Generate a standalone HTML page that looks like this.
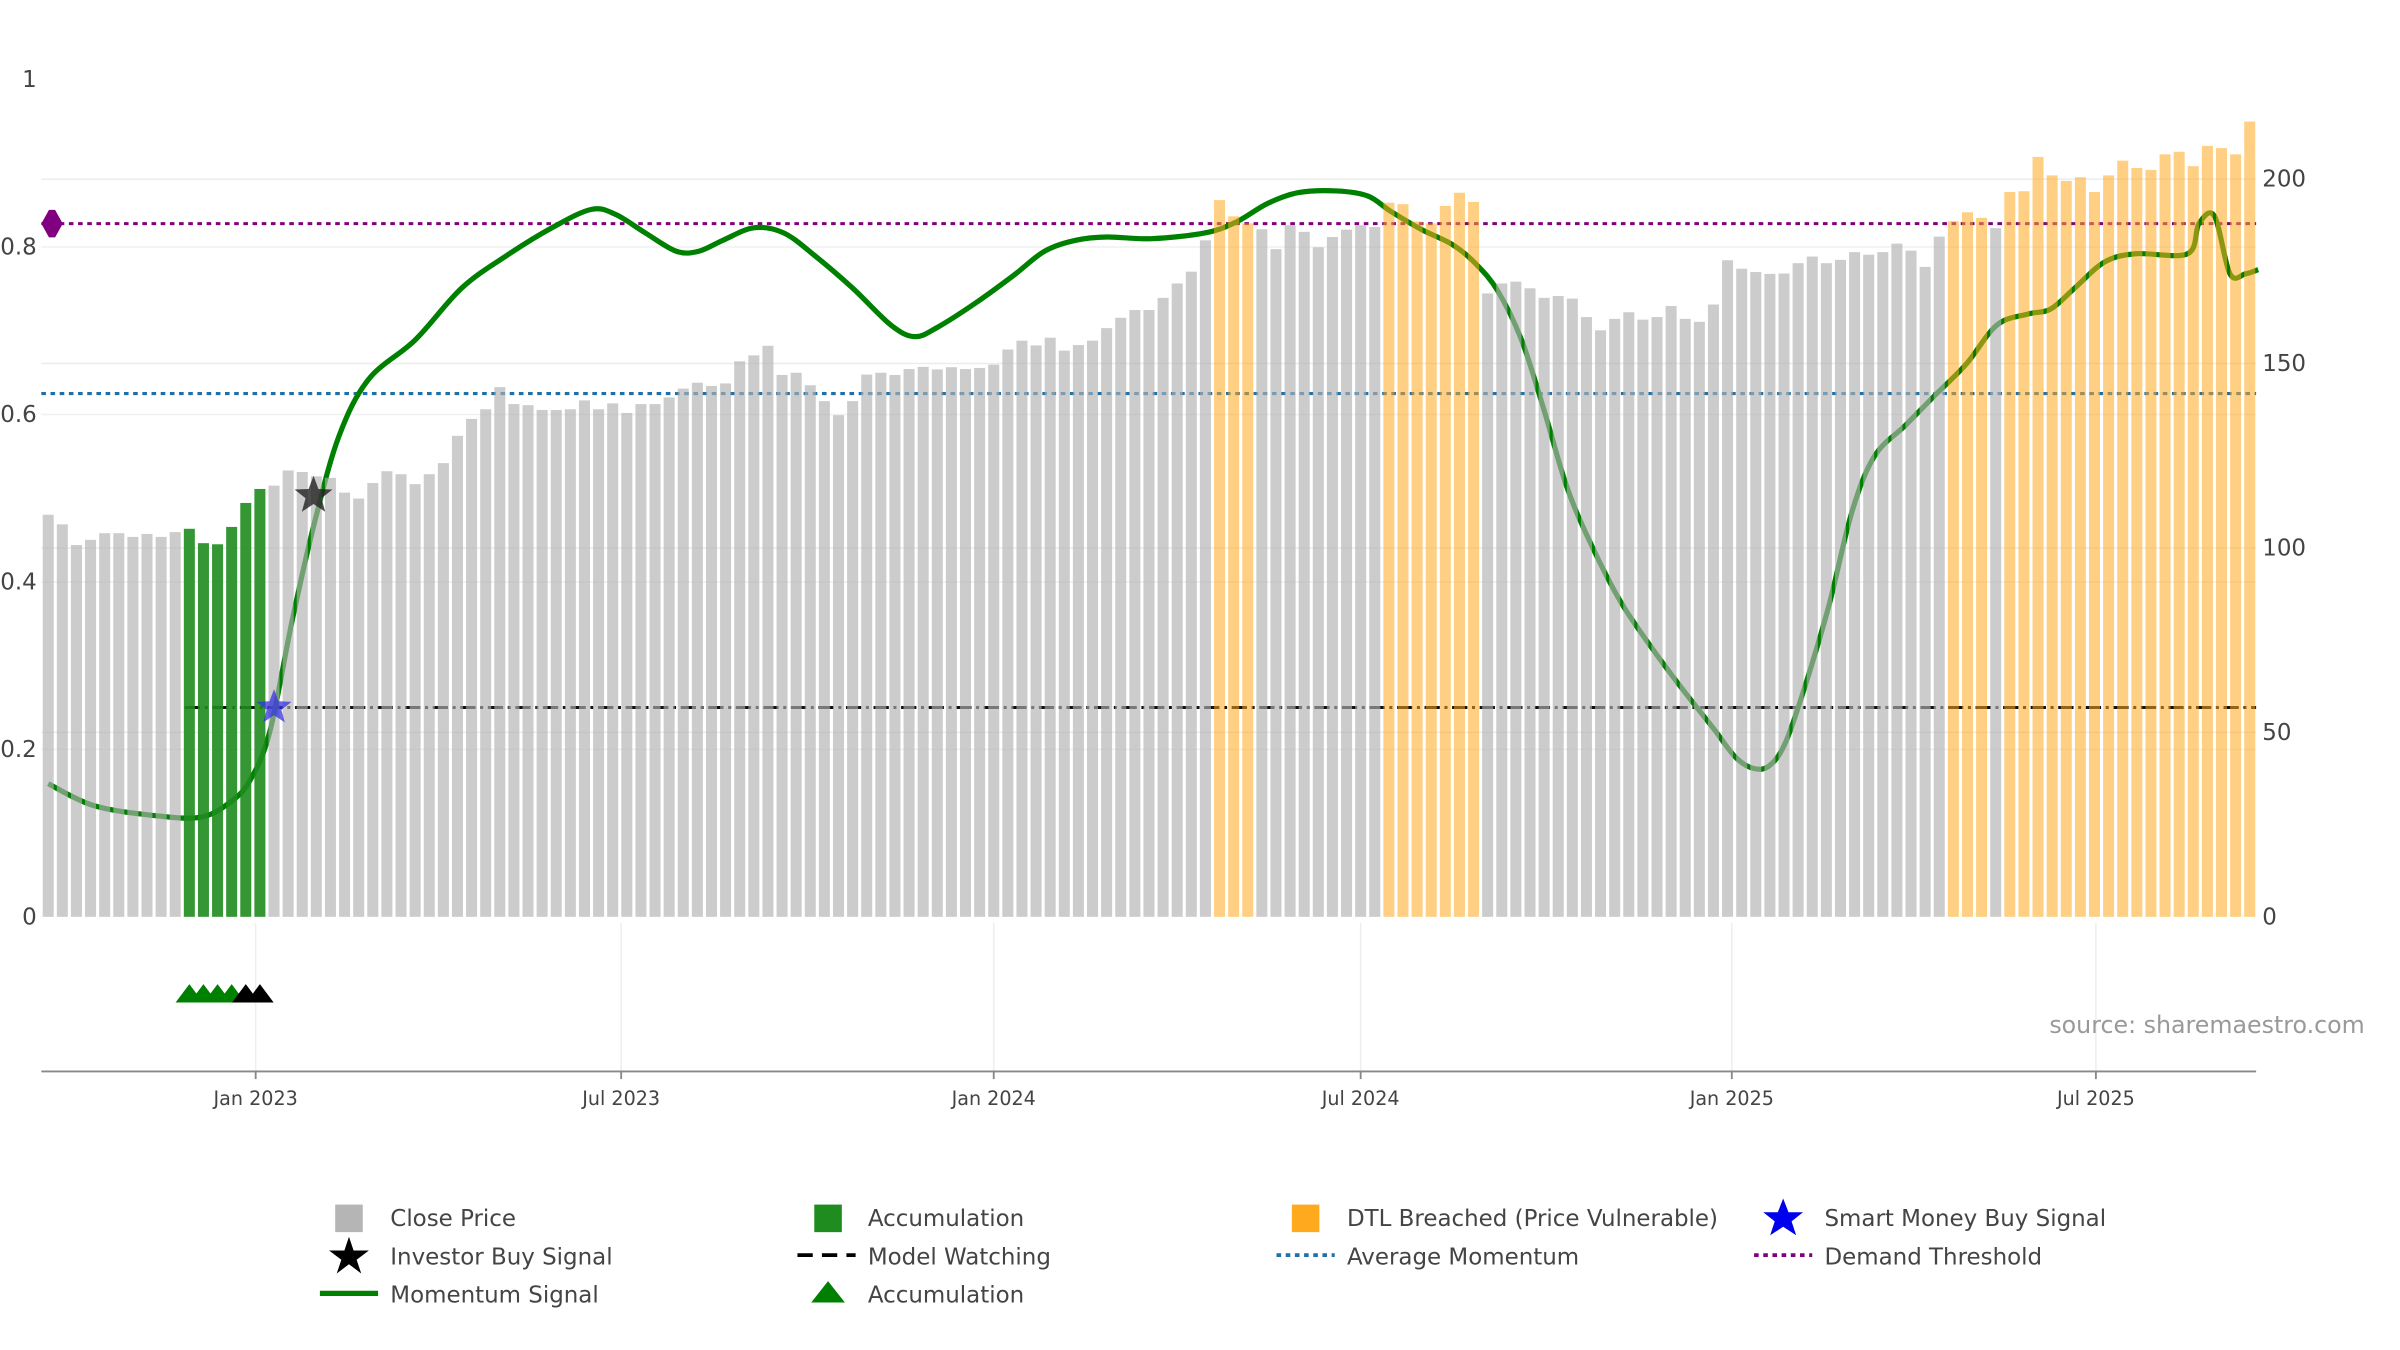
<!DOCTYPE html>
<html><head><meta charset="utf-8"><title>Momentum chart</title>
<style>
html,body{margin:0;padding:0;background:#fff;}
svg{display:block;font-family:"DejaVu Sans","Liberation Sans",sans-serif;}
</style></head>
<body>
<svg id="chart" width="2400" height="1350" viewBox="0 0 1568 882" xmlns="http://www.w3.org/2000/svg">
<g id="grid"></g>
<g id="hlines"></g>
<g id="line"></g>
<g id="bars"></g>
<g id="marks"></g>
<g id="axes"></g>
<text x="1545" y="675" text-anchor="end" font-size="15.5" fill="#999">source: sharemaestro.com</text>
<g id="legend" font-size="15" fill="#444">
  <g><rect x="219" y="787" width="18" height="18" fill="#b5b5b5"/><text x="255" y="801">Close Price</text></g>
  <g><path d="M228,808 L231,817 L241,817 L233,823 L236,832 L228,826 L220,832 L223,823 L215,817 L225,817Z" fill="#000"/><text x="255" y="826">Investor Buy Signal</text></g>
  <g><line x1="209" y1="845" x2="247" y2="845" stroke="#008000" stroke-width="3.5"/><text x="255" y="851">Momentum Signal</text></g>
  <g><rect x="532" y="787" width="18" height="18" fill="#1e8c1e"/><text x="567" y="801">Accumulation</text></g>
  <g><line x1="521" y1="820" x2="559" y2="820" stroke="#000" stroke-width="2.5" stroke-dasharray="10,6"/><text x="567" y="826">Model Watching</text></g>
  <g><path d="M530,851 L541,837 L552,851Z" fill="#008000"/><text x="567" y="851">Accumulation</text></g>
  <g><rect x="844" y="787" width="18" height="18" fill="#ffa91e"/><text x="880" y="801">DTL Breached (Price Vulnerable)</text></g>
  <g><line x1="834" y1="820" x2="872" y2="820" stroke="#1f6fa8" stroke-width="2.5" stroke-dasharray="3,3"/><text x="880" y="826">Average Momentum</text></g>
  <g><path d="M1165,783 L1168.5,792 L1178,792 L1170.5,798 L1173.5,807 L1165,801.5 L1156.5,807 L1159.5,798 L1152,792 L1161.5,792Z" fill="#0000ee"/><text x="1192" y="801">Smart Money Buy Signal</text></g>
  <g><line x1="1146" y1="820" x2="1184" y2="820" stroke="#800080" stroke-width="2.5" stroke-dasharray="3,3"/><text x="1192" y="826">Demand Threshold</text></g>
</g>
</svg>
<script>
const prices = [109,106.4,100.8,102.2,104,104,103,103.8,103,104.3,105.2,101.3,101,105.7,112.2,116,
116.9,121,120.6,119.4,119,115,113.4,117.6,120.8,120,117.3,120,123,130.4,135,137.6,143.6,139,138.7,137.4,137.4,137.6,140,137.6,139.2,136.6,139,139,140.8,143.2,144.8,143.9,144.6,150.6,152.2,154.8,
146.9,147.5,144.1,139.8,136,139.8,147,147.5,146.9,148.5,149.1,148.4,149,148.5,148.8,149.7,153.8,156.2,154.9,157,153.5,155,156.2,159.6,162.4,164.5,164.5,167.8,171.7,174.9,183.4,
194.3,189.9,188,
186.4,181,187.5,185.7,181.5,184.3,186.3,187.5,187,
193.6,193.2,188.5,188,192.7,196.3,193.8,
169,171.7,172.2,170.4,167.8,168.3,167.6,162.6,159,162.1,163.9,161.9,162.6,165.6,162.1,161.3,166,
178,175.7,174.8,174.3,174.4,177.2,179,177.2,178.1,180.2,179.5,180.2,182.5,180.6,176.2,184.4,
188.6,191,189.5,186.7,196.5,196.7,206,201,199.5,200.5,196.5,201,205,203,202.5,206.7,207.4,203.5,209,208.4,206.7,215.6];
const accumBars = [10,11,12,13,14,15];
const dtlBars = [83,84,85,95,96,97,98,99,100,101,135,136,137,139,140,141,142,143,144,145,146,147,148,149,150,151,152,153,154,155,156];
const momIdx = [0,3.2,7.5,10.8,12.9,14.3,15.7,17.3,18.9,20.6,22.7,26,29.3,32.5,35.8,38.5,40.2,42.3,44.5,46.1,47.8,50,52.1,54.3,57,59.7,61.4,63,65.7,68.4,70.6,72.8,75,78.2,82,84.2,86.4,88.6,91.3,93.5,95.1,97.3,99.5,101.1,102.7,104.4,106,107.6,109.3,111.4,113.6,115.8,118,119.6,120.9,122,123.1,124.5,126.2,127.8,129.4,131.6,133.7,135.9,138.1,140.3,141.9,143.6,145.7,147.9,151.6,152.4,153.5,154.6,155.7,156.6];
const momVal = [0.159,0.133,0.121,0.119,0.137,0.163,0.221,0.355,0.473,0.574,0.642,0.689,0.751,0.790,0.824,0.845,0.839,0.817,0.795,0.795,0.808,0.823,0.817,0.790,0.751,0.707,0.693,0.704,0.733,0.766,0.795,0.808,0.812,0.810,0.817,0.830,0.852,0.865,0.867,0.861,0.843,0.821,0.803,0.781,0.748,0.689,0.605,0.514,0.446,0.377,0.322,0.272,0.225,0.190,0.177,0.181,0.208,0.276,0.373,0.483,0.550,0.587,0.623,0.660,0.707,0.720,0.726,0.751,0.782,0.792,0.792,0.828,0.837,0.768,0.768,0.773];
const demandThreshold = 0.828;
const avgMomentum = 0.625;
const modelWatching = 0.25;
const modelWatchStart = 10;
const investorBuy = [18.8, 0.503];
const smartMoneyBuy = [16, 0.25];
const accumTriIdx = [10,11,12,13];
const blackTriIdx = [14,15];
const leftTicks = [0,0.2,0.4,0.6,0.8,1];
const leftTickLabels = ["0","0.2","0.4","0.6","0.8","1"];
const rightTicks = [0,50,100,150,200];
const xTickIdx = [14.7,40.6,67,93,119.3,145.1];
const xTickLabels = ["Jan 2023","Jul 2023","Jan 2024","Jul 2024","Jan 2025","Jul 2025"];

const NS="http://www.w3.org/2000/svg";
const X0=27,X1=1474,Y0=599;
const xS=i=>31.5+i*9.22;
const yL=v=>Y0-547*v;
const yR=p=>Y0-p*2.41;
function mk(tag,attrs,parent){const e=document.createElementNS(NS,tag);for(const k in attrs)e.setAttribute(k,attrs[k]);parent.appendChild(e);return e;}
const G=id=>document.getElementById(id);

rightTicks.forEach(t=>{if(t>0){const l=mk('line',{x1:X0,x2:X1,y1:yR(t),y2:yR(t),stroke:'#ececec','stroke-width':1},G('grid'));

}});
leftTicks.forEach(t=>{if(t>0&&t<1){const l=mk('line',{x1:X0,x2:X1,y1:yL(t),y2:yL(t),stroke:'#f0f0f0','stroke-width':1},G('grid'));

}});
xTickIdx.forEach(t=>{const l=mk('line',{x1:xS(t),x2:xS(t),y1:603,y2:700,stroke:'#eeeeee','stroke-width':1},G('grid'));

});

let e=mk('line',{x1:X0,x2:X1,y1:yL(demandThreshold),y2:yL(demandThreshold),stroke:'#800080','stroke-width':2,'stroke-dasharray':'3,3'},G('hlines'));


e=mk('path',{d:`M${X0},${yL(demandThreshold)} l5,-9 h4 l5,9 l-5,9 h-4z`,fill:'#800080'},G('hlines'));


e=mk('line',{x1:X0,x2:X1,y1:yL(avgMomentum),y2:yL(avgMomentum),stroke:'#1f6fa8','stroke-width':2,'stroke-dasharray':'3,3'},G('hlines'));


e=mk('line',{x1:xS(modelWatchStart)-3,x2:X1,y1:yL(modelWatching),y2:yL(modelWatching),stroke:'#111','stroke-width':2,'stroke-dasharray':'10,3,2,3'},G('hlines'));



const pts=momIdx.map((d,i)=>[xS(d),yL(momVal[i])]);
let d=`M${pts[0][0]},${pts[0][1]}`;
for(let i=0;i<pts.length-1;i++){const p0=pts[Math.max(0,i-1)],p1=pts[i],p2=pts[i+1],p3=pts[Math.min(pts.length-1,i+2)];
d+=` C${p1[0]+(p2[0]-p0[0])/6},${p1[1]+(p2[1]-p0[1])/6} ${p2[0]-(p3[0]-p1[0])/6},${p2[1]-(p3[1]-p1[1])/6} ${p2[0]},${p2[1]}`;}
e=mk('path',{d:d,fill:'none',stroke:'#008000','stroke-width':3.4,'stroke-linejoin':'round'},G('line'));



prices.forEach((p,i)=>{let fill='#b0b0b0',op=0.65,name='close-price-bar';
if(accumBars.includes(i)){fill='#1e8c1e';op=0.9;name='accumulation-bar';}
else if(dtlBars.includes(i)){fill='#ffa91e';op=0.55;name='dtl-breached-bar';}
const b=mk('rect',{x:xS(i)-3.6,y:yR(p),width:7.2,height:Y0-yR(p),fill:fill,'fill-opacity':op},G('bars'));

});

function star(cx,cy,r,fill,name,op){let s='';for(let k=0;k<10;k++){const a=-Math.PI/2+k*Math.PI/5,rr=k%2?r*0.42:r;s+=(k?'L':'M')+(cx+rr*Math.cos(a))+','+(cy+rr*Math.sin(a));}
const st=mk('path',{d:s+'Z',fill:fill,'fill-opacity':op},G('marks'));

}
star(xS(investorBuy[0]),yL(investorBuy[1]),13,'#222','investor-buy-star',0.8);
star(xS(smartMoneyBuy[0]),yL(smartMoneyBuy[1]),12,'#3333dd','smart-money-buy-star',0.75);
accumTriIdx.forEach(i=>{const x=xS(i);const t=mk('path',{d:`M${x-9},655 L${x},643 L${x+9},655Z`,fill:'#008000'},G('marks'));

});
blackTriIdx.forEach(i=>{const x=xS(i);const t=mk('path',{d:`M${x-9},655 L${x},643 L${x+9},655Z`,fill:'#000'},G('marks'));

});

e=mk('line',{x1:X0,x2:X1,y1:700,y2:700,stroke:'#888','stroke-width':1.2},G('axes'));


xTickIdx.forEach((t,i)=>{const x=xS(t);
const tk=mk('line',{x1:x,x2:x,y1:700,y2:705,stroke:'#888','stroke-width':1.2},G('axes'));


const tx=mk('text',{x:x,y:722,'text-anchor':'middle','font-size':12.5,fill:'#444'},G('axes'));tx.textContent=xTickLabels[i];

});
leftTicks.forEach((t,i)=>{const tx=mk('text',{x:24,y:yL(t)+5,'text-anchor':'end','font-size':15,fill:'#444'},G('axes'));tx.textContent=leftTickLabels[i];

});
rightTicks.forEach(t=>{const tx=mk('text',{x:1478,y:yR(t)+5,'text-anchor':'start','font-size':15,fill:'#444'},G('axes'));tx.textContent=String(t);

});
</script>
</body></html>
